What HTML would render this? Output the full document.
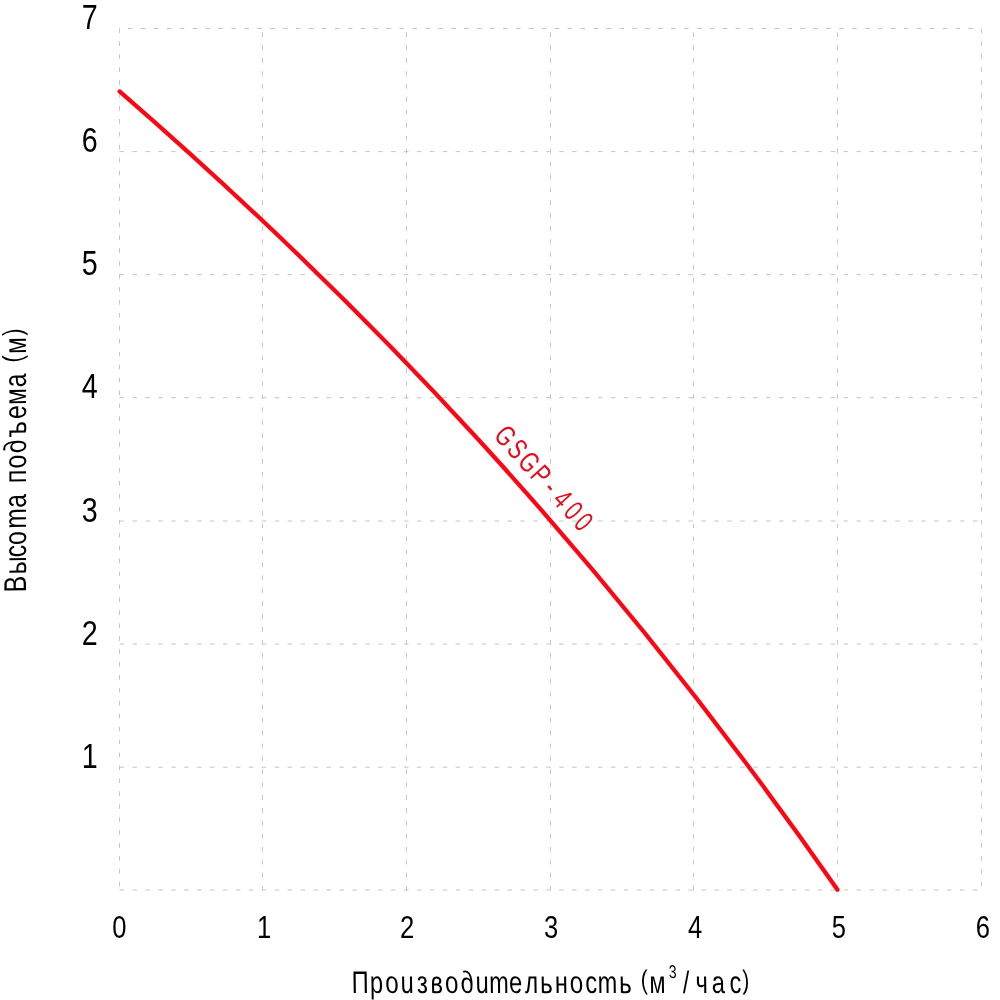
<!DOCTYPE html>
<html lang="ru"><head><meta charset="utf-8"><title>GSGP-400</title>
<style>
html,body{margin:0;padding:0;background:#fff;}
svg{display:block;}
text{font-family:"Liberation Sans", sans-serif;fill:#000;white-space:pre;}
</style></head><body>
<svg width="1000" height="1000" viewBox="0 0 1000 1000">
<rect width="1000" height="1000" fill="#fff"/>
<g stroke="#c6c6c6" stroke-width="1" fill="none">
<line x1="119.50" y1="28.5" x2="119.50" y2="890.5" stroke-dasharray="4.6 8.33"/>
<line x1="262.50" y1="890.3" x2="262.50" y2="28.5" stroke-dasharray="4.6 8.33"/>
<line x1="406.50" y1="890.3" x2="406.50" y2="28.5" stroke-dasharray="4.6 8.33"/>
<line x1="550.50" y1="890.3" x2="550.50" y2="28.5" stroke-dasharray="4.6 8.33"/>
<line x1="693.50" y1="890.3" x2="693.50" y2="28.5" stroke-dasharray="4.6 8.33"/>
<line x1="837.50" y1="890.3" x2="837.50" y2="28.5" stroke-dasharray="4.6 8.33"/>
<line x1="981.50" y1="28.5" x2="981.50" y2="890.5" stroke-dasharray="4.6 8.33"/>
<line x1="119.50" y1="890.00" x2="981.50" y2="890.00" stroke-dasharray="4.6 8.33" stroke-dashoffset="0"/>
<line x1="119.50" y1="767.20" x2="981.50" y2="767.20" stroke-dasharray="4.6 8.33" stroke-dashoffset="0"/>
<line x1="119.50" y1="644.10" x2="981.50" y2="644.10" stroke-dasharray="4.6 8.33" stroke-dashoffset="0"/>
<line x1="119.50" y1="521.00" x2="981.50" y2="521.00" stroke-dasharray="4.6 8.33" stroke-dashoffset="0"/>
<line x1="119.50" y1="397.70" x2="981.50" y2="397.70" stroke-dasharray="4.6 8.33" stroke-dashoffset="0"/>
<line x1="119.50" y1="274.60" x2="981.50" y2="274.60" stroke-dasharray="4.6 8.33" stroke-dashoffset="0"/>
<line x1="119.50" y1="151.60" x2="981.50" y2="151.60" stroke-dasharray="4.6 8.33" stroke-dashoffset="0"/>
<line x1="119.50" y1="28.50" x2="981.50" y2="28.50" stroke-dasharray="4.6 8.33" stroke-dashoffset="4.44"/>
</g>
<path d="M119.60,91.40 C358.90,299.16 598.20,546.46 837.50,889.80" fill="none" stroke="#fc0614" stroke-width="4.2" stroke-linecap="round"/>
<text transform="translate(97.60,767.80) scale(0.82,1)" font-size="35" text-anchor="end">1</text>
<text transform="translate(97.60,644.70) scale(0.82,1)" font-size="35" text-anchor="end">2</text>
<text transform="translate(97.60,521.60) scale(0.82,1)" font-size="35" text-anchor="end">3</text>
<text transform="translate(97.60,398.30) scale(0.82,1)" font-size="35" text-anchor="end">4</text>
<text transform="translate(97.60,275.20) scale(0.82,1)" font-size="35" text-anchor="end">5</text>
<text transform="translate(97.60,152.20) scale(0.82,1)" font-size="35" text-anchor="end">6</text>
<text transform="translate(97.60,29.10) scale(0.82,1)" font-size="35" text-anchor="end">7</text>
<text transform="translate(119.40,937.60) scale(0.8,1)" font-size="32" text-anchor="middle">0</text>
<text transform="translate(264.10,937.60) scale(0.8,1)" font-size="32" text-anchor="middle">1</text>
<text transform="translate(407.20,937.60) scale(0.8,1)" font-size="32" text-anchor="middle">2</text>
<text transform="translate(551.10,937.60) scale(0.8,1)" font-size="32" text-anchor="middle">3</text>
<text transform="translate(695.00,937.60) scale(0.8,1)" font-size="32" text-anchor="middle">4</text>
<text transform="translate(838.90,937.60) scale(0.8,1)" font-size="32" text-anchor="middle">5</text>
<text transform="translate(982.80,937.60) scale(0.8,1)" font-size="32" text-anchor="middle">6</text>
<text transform="translate(0,993.0) scale(0.755,1) skewX(12)" font-style="italic" font-size="31.2" text-anchor="middle" x="478.94 500.40 521.06 541.19 561.06 580.13 600.00 620.66 640.53 662.52 684.77 705.96 725.56 745.43 765.17 784.90 806.36 829.93 841.06 855.63 872.58 895.23 910.60 931.13 953.11 976.16 990.46">Производительность <tspan font-size="27" dy="-3.9">(</tspan><tspan dy="3.9">м</tspan><tspan font-size="18.5" dy="-14.9">3</tspan><tspan dy="14.9">/час</tspan><tspan font-size="27" dy="-3.9">)</tspan></text>
<text transform="translate(26.1,0) rotate(-90) scale(0.78,1) skewX(12)" font-style="italic" font-size="31.5" text-anchor="middle" x="-747.31 -723.08 -704.62 -687.95 -662.82 -640.51 -625.64 -609.10 -589.87 -570.51 -548.21 -526.41 -506.41 -486.03 -471.79 -457.69 -441.03 -423.08">Высота подъема <tspan font-size="27.5" dy="-4.1">(</tspan><tspan dy="4.1">м</tspan><tspan font-size="27.5" dy="-4.1">)</tspan></text>
<text transform="translate(498.3,442.6) rotate(47.8) scale(0.72,1)" font-size="29" text-anchor="middle" x="0.00 24.31 49.03 72.92 94.72 117.64 140.28 161.25" style="fill:#e50b1a">GSGP-400</text>
</svg></body></html>
